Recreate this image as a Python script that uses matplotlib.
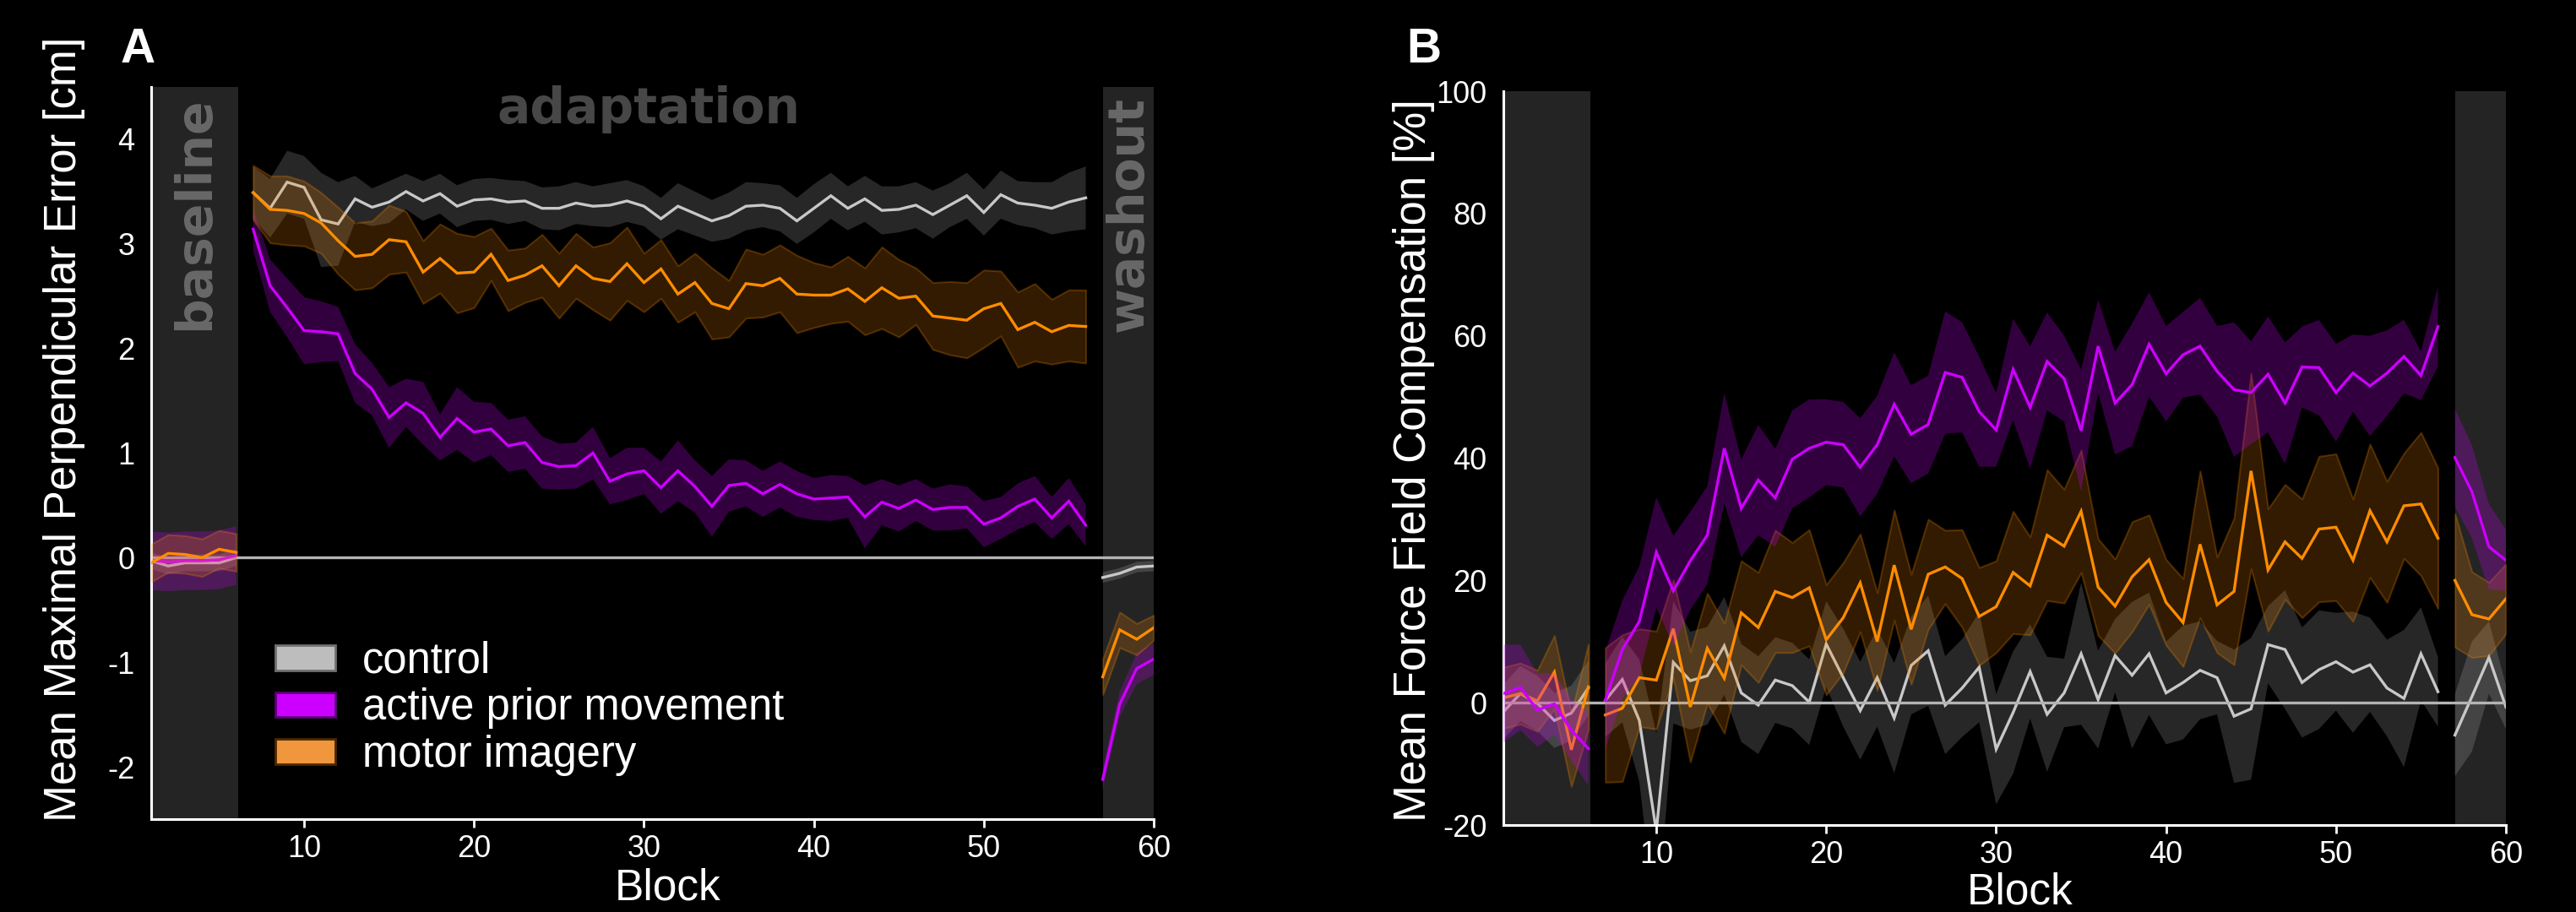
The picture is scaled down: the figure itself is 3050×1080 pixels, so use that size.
import matplotlib
matplotlib.use('Agg')
import matplotlib.pyplot as plt
import numpy as np
from matplotlib.patches import Patch
from matplotlib.colors import to_rgba

plt.rcParams['font.family'] = ['Liberation Sans', 'DejaVu Sans']
plt.rcParams['axes.unicode_minus'] = False

# ---------------- data ----------------
blocks = np.arange(1, 61)
phase_segments = [(1, 6), (7, 56), (57, 60)]   # baseline, adaptation, washout
group_labels = ['control', 'active prior movement', 'motor imagery']

# Panel A: mean maximal perpendicular error [cm]
A_control_mean = [-0.03, -0.08, -0.05, -0.05, -0.05, 0.00,
                  3.49, 3.34, 3.59, 3.54, 3.23, 3.19, 3.43, 3.35, 3.40, 3.50, 3.41, 3.48, 3.36, 3.42,
                  3.43, 3.40, 3.41, 3.34, 3.34, 3.39, 3.36, 3.37, 3.41, 3.36, 3.24,
                  3.36, 3.29, 3.22, 3.27, 3.36, 3.37, 3.34, 3.22, 3.34, 3.46, 3.34, 3.43, 3.32, 3.33,
                  3.37, 3.28, 3.37, 3.46, 3.30, 3.47, 3.39, 3.37, 3.34, 3.40, 3.44,
                  -0.19, -0.15, -0.09, -0.08]
A_control_sem = [0.08, 0.08, 0.08, 0.08, 0.08, 0.08,
                 0.25, 0.28, 0.30, 0.30, 0.45, 0.40, 0.22, 0.18, 0.20, 0.17, 0.19, 0.19, 0.20, 0.20,
                 0.20, 0.21, 0.19, 0.20, 0.21, 0.20, 0.19, 0.21, 0.20, 0.19, 0.20,
                 0.22, 0.21, 0.20, 0.22, 0.23, 0.21, 0.22, 0.22, 0.23, 0.22, 0.21, 0.22, 0.23, 0.22,
                 0.22, 0.23, 0.21, 0.22, 0.22, 0.23, 0.21, 0.22, 0.25, 0.28, 0.30,
                 0.05, 0.05, 0.05, 0.05]

A_active_mean = [-0.03, -0.04, -0.03, -0.03, -0.02, 0.02,
                 3.14, 2.60, 2.39, 2.17, 2.16, 2.14, 1.76, 1.61, 1.34, 1.48, 1.38, 1.15, 1.33, 1.20,
                 1.23, 1.07, 1.10, 0.91, 0.87, 0.88, 1.00, 0.73, 0.80, 0.83, 0.67,
                 0.83, 0.68, 0.49, 0.69, 0.71, 0.61, 0.70, 0.61, 0.56, 0.57, 0.58, 0.39, 0.53, 0.47,
                 0.55, 0.46, 0.48, 0.48, 0.32, 0.38, 0.49, 0.56, 0.38, 0.54, 0.31,
                 -2.12, -1.40, -1.06, -0.97]
A_active_sem = [0.28, 0.28, 0.28, 0.28, 0.28, 0.28,
                0.20, 0.25, 0.28, 0.32, 0.29, 0.26, 0.28, 0.25, 0.29, 0.23, 0.30, 0.22, 0.30, 0.29,
                0.25, 0.25, 0.25, 0.25, 0.22, 0.22, 0.25, 0.22, 0.25, 0.22, 0.25,
                0.29, 0.25, 0.29, 0.25, 0.22, 0.22, 0.22, 0.22, 0.20, 0.22, 0.20, 0.30, 0.22, 0.22,
                0.20, 0.20, 0.22, 0.20, 0.22, 0.20, 0.22, 0.22, 0.20, 0.22, 0.20,
                0.10, 0.12, 0.15, 0.15]

A_imagery_mean = [-0.05, 0.04, 0.03, 0.00, 0.08, 0.05,
                  3.49, 3.33, 3.32, 3.29, 3.20, 3.03, 2.88, 2.90, 3.04, 3.02, 2.73, 2.86, 2.72, 2.73,
                  2.90, 2.65, 2.70, 2.79, 2.60, 2.79, 2.67, 2.64, 2.81, 2.63, 2.76,
                  2.52, 2.63, 2.43, 2.38, 2.62, 2.60, 2.67, 2.52, 2.51, 2.51, 2.57, 2.45, 2.58, 2.48,
                  2.50, 2.31, 2.29, 2.27, 2.38, 2.43, 2.18, 2.25, 2.16, 2.22, 2.21,
                  -1.14, -0.69, -0.78, -0.67]
A_imagery_sem = [0.18, 0.18, 0.18, 0.18, 0.18, 0.18,
                 0.26, 0.32, 0.33, 0.31, 0.29, 0.32, 0.32, 0.32, 0.33, 0.29, 0.30, 0.33, 0.38, 0.34,
                 0.25, 0.29, 0.26, 0.30, 0.31, 0.31, 0.30, 0.37, 0.35, 0.28, 0.28,
                 0.27, 0.28, 0.34, 0.27, 0.33, 0.30, 0.32, 0.37, 0.31, 0.27, 0.31, 0.32, 0.39, 0.37,
                 0.27, 0.32, 0.35, 0.36, 0.37, 0.31, 0.36, 0.37, 0.31, 0.34, 0.35,
                 0.17, 0.17, 0.15, 0.12]

# Panel B: mean force field compensation [%]
B_control_mean = [-1.5, 1.5, -0.1, -2.9, -1.7, 2.4,
                  0.4, 3.8, -2.9, -21.0, 6.6, 3.6, 4.4, 9.3, 1.6, -0.4, 3.7, 2.8, 0.1, 9.6,
                  4.1, -1.3, 4.1, -2.5, 6.1, 8.5, -0.4, 2.4, 5.8, -7.6,
                  -1.6, 5.1, -1.9, 1.6, 8.0, 0.5, 7.7, 4.5, 8.0, 1.6, 3.3, 5.3, 4.1, -2.2,
                  -1.0, 9.5, 8.7, 3.3, 5.4, 6.7, 5.0, 6.2, 2.4, 0.7, 8.0, 1.8,
                  -5.3, 1.0, 7.4, -0.7]
B_control_sem = [4.5, 4.5, 4.5, 4.5, 4.5, 4.5,
                 6, 7, 10, 16, 10, 8, 8, 8, 8, 8, 7, 7, 7, 7,
                 8, 8, 8, 9, 8, 9, 8, 8, 9, 9,
                 10, 7.7, 9.4, 5.6, 11.6, 8, 6, 12, 10, 8.4, 9.3, 8, 6, 10.9,
                 11.6, 6.3, 9.7, 9, 9.7, 8, 9.9, 7.7, 7.9, 11.2, 7.6, 5.7,
                 6.7, 9, 5.9, 3.6]

B_active_mean = [1.5, 2.5, -1.2, -0.2, -4.5, -7.5,
                 0.4, 8.7, 13.3, 24.6, 18.3, 23.2, 27.4, 41.6, 31.8, 36.4, 33.5, 39.8, 41.6, 42.6,
                 42.2, 38.5, 42.2, 48.8, 43.9, 45.5, 54.0, 53.2, 47.6, 44.6,
                 54.5, 48.3, 55.8, 53.0, 44.5, 58.3, 49.0, 52.0, 58.6, 53.8, 56.9, 58.3, 54.2, 51.2,
                 50.7, 53.7, 49.0, 54.9, 54.8, 50.7, 53.9, 51.8, 53.9, 56.6, 53.5, 61.5,
                 40.1, 34.5, 25.5, 23.3]
B_active_sem = [8, 7, 6, 5, 5, 6,
                8, 8, 9, 9, 9, 8, 8, 9, 8, 9, 8, 8, 8, 7,
                7, 8, 8, 8.5, 8, 8, 10, 9, 9, 6,
                8.3, 10, 8, 7, 10, 7.6, 8.4, 10, 8.5, 7.8, 7, 7.9, 7.4, 11,
                8.4, 9.5, 9.9, 6.6, 7.8, 8, 6.3, 8.2, 7, 6, 4, 6.5,
                8, 7.6, 7, 5]

B_imagery_mean = [0.8, 1.5, 0.3, 5.0, -7.7, 2.6,
                  -2.0, -0.9, 4.1, 3.7, 12.1, -0.7, 8.9, 4.0, 14.7, 12.3, 18.2, 17.2, 18.8, 10.3,
                  13.9, 19.6, 10.0, 22.5, 12.0, 21.0, 22.2, 20.3, 14.1, 15.7,
                  21.3, 19.1, 27.4, 25.6, 31.3, 18.9, 15.8, 20.6, 23.4, 16.4, 13.1, 25.9, 16.0, 18.2,
                  37.9, 21.7, 26.3, 23.6, 28.4, 28.7, 23.3, 31.4, 26.3, 32.2, 32.5, 26.9,
                  20.0, 14.4, 13.7, 17.0]
B_imagery_sem = [5, 5, 5, 6, 6, 7,
                 11, 12, 8, 8, 8, 9, 9, 9, 8.5, 9, 10, 9, 9.5, 9,
                 9, 8, 8, 9, 9, 9, 6, 8, 8, 7.5,
                 10, 8, 10.7, 9.3, 10, 7.9, 7.7, 9, 7.3, 7, 7.2, 12, 7.8, 12,
                 16, 10, 9.4, 9.7, 11.9, 12, 10, 10.9, 9.9, 8.6, 11.7, 11.5,
                 10.9, 7, 6, 5.7]

A_yticks = [-2, -1, 0, 1, 2, 3, 4]
B_yticks = [-20, 0, 20, 40, 60, 80, 100]
x_ticks = [10, 20, 30, 40, 50, 60]

# ---------------- style ----------------
C_CTRL = '#c8c8c8'
C_ACT = '#cc00ff'
C_IMG = '#ff8c00'
SHADE = '#242424'

fig = plt.figure(figsize=(30.5, 10.8), dpi=100, facecolor='black')
axA = fig.add_axes([0.05869, 0.10185, 0.38918, 0.80278])
axB = fig.add_axes([0.58361, 0.09537, 0.38918, 0.80463])


def style_axes(ax, ylim, yticks):
    ax.set_facecolor('black')
    ax.set_xlim(1, 60)
    ax.set_ylim(*ylim)
    for s in ['top', 'right']:
        ax.spines[s].set_visible(False)
    for s in ['left', 'bottom']:
        ax.spines[s].set_color('white')
        ax.spines[s].set_linewidth(2.2)
    ax.set_xticks(x_ticks)
    ax.set_xticklabels([str(t) for t in x_ticks])
    ax.set_yticks(yticks)
    ax.set_yticklabels([str(t) for t in yticks])
    ax.tick_params(axis='x', colors='white', labelsize=26, length=7, width=2, pad=6)
    ax.tick_params(axis='y', colors='white', labelsize=26, length=0, pad=14)
    ax.axvspan(1, 6.1, color=SHADE, lw=0, zorder=0)
    ax.axvspan(57, 60, color=SHADE, lw=0, zorder=0)
    ax.axhline(0, color='#b4b4b4', lw=2.4, zorder=1.8)


def draw_series(ax, mean, sem, color, fill_alpha, edge, z):
    m = np.asarray(mean, dtype=float)
    s = np.asarray(sem, dtype=float)
    for a, b in phase_segments:
        idx = (blocks >= a) & (blocks <= b)
        ax.fill_between(blocks[idx], m[idx] - s[idx], m[idx] + s[idx],
                        facecolor=to_rgba(color, fill_alpha),
                        edgecolor=to_rgba(color, 0.25) if edge else 'none',
                        linewidth=1.5 if edge else 0, zorder=z)
        ax.plot(blocks[idx], m[idx], color=color, lw=2.4, zorder=z + 0.1,
                solid_joinstyle='miter')


style_axes(axA, (-2.5, 4.5), A_yticks)
style_axes(axB, (-20, 100), B_yticks)

draw_series(axA, A_control_mean, A_control_sem, C_CTRL, 0.2, False, 1)
draw_series(axA, A_active_mean, A_active_sem, C_ACT, 0.25, False, 2)
draw_series(axA, A_imagery_mean, A_imagery_sem, C_IMG, 0.2, True, 3)

draw_series(axB, B_control_mean, B_control_sem, C_CTRL, 0.2, False, 1)
draw_series(axB, B_imagery_mean, B_imagery_sem, C_IMG, 0.2, True, 2)
draw_series(axB, B_active_mean, B_active_sem, C_ACT, 0.25, False, 3)

# phase labels
phase_kw = dict(family='DejaVu Sans', weight='bold', fontsize=42)
axA.text(30.3, 4.15, 'adaptation', color='#474747', ha='center', va='baseline', zorder=5, **phase_kw)
axA.text(3.55, 4.41, 'baseline', color='#686868', rotation=90, ha='center', va='top', zorder=5, **phase_kw)
axA.text(58.55, 4.41, 'washout', color='#686868', rotation=90, ha='center', va='top', zorder=5, **phase_kw)

# axis labels
axA.set_ylabel('Mean Maximal Perpendicular Error [cm]', fontsize=38, color='white')
axA.yaxis.set_label_coords(-0.0868, 0.533)
axA.yaxis.label.set_va('center')
axB.set_ylabel('Mean Force Field Compensation [%]', fontsize=38, color='white')
axB.yaxis.set_label_coords(-0.0893, 0.497)
axB.yaxis.label.set_va('center')
for ax, yy in [(axA, -0.094), (axB, -0.092)]:
    ax.set_xlabel('Block', fontsize=37, color='white')
    ax.xaxis.set_label_coords(0.515, yy)
    ax.xaxis.label.set_va('center')

# legend
handles = [Patch(facecolor='#bdbdbd', edgecolor='#707070', lw=2),
           Patch(facecolor='#cc00ff', edgecolor='#5c0075', lw=2),
           Patch(facecolor='#f0963c', edgecolor='#4a2800', lw=2)]
leg = axA.legend(handles, group_labels, loc='upper left', bbox_to_anchor=(0.124, 0.2436),
                 frameon=False, fontsize=36.5, handlelength=1.4, handleheight=0.52,
                 handletextpad=0.62, labelspacing=0.13, borderpad=0, borderaxespad=0)
for t in leg.get_texts():
    t.set_color('white')

# panel letters
fig.text(0.0469, 0.9458, 'A', fontsize=41, weight='bold', color='white', ha='left', va='center')
fig.text(0.5459, 0.9458, 'B', fontsize=41, weight='bold', color='white', ha='left', va='center')

fig.savefig('out.png', dpi=100, facecolor='black')
